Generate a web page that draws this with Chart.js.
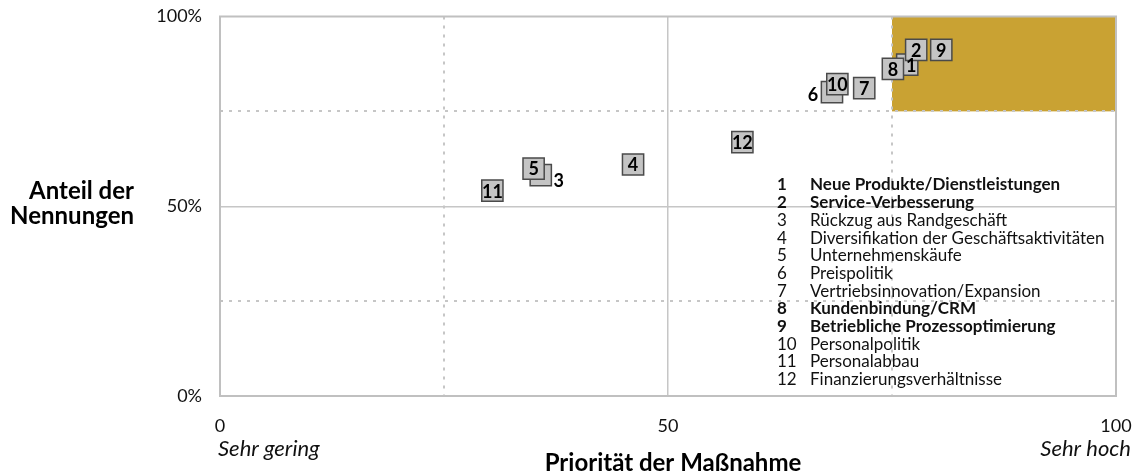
<!DOCTYPE html>
<html lang="de">
<head>
<meta charset="utf-8">
<title>Priorität der Maßnahmen</title>
<script src="https://cdn.jsdelivr.net/npm/chart.js@4.4.1/dist/chart.umd.min.js"></script>
<style>
  html, body { margin: 0; padding: 0; background: #ffffff; }
  #wrap { width: 1146px; height: 475px; position: relative; }
</style>
</head>
<body>
<div id="wrap"><canvas id="portfolio" width="1146" height="475"></canvas></div>
<script>
// Measures: number, name, priority (0-100) and share of mentions (%)
const measureNumbers = ['1', '2', '3', '4', '5', '6', '7', '8', '9', '10', '11', '12'];
const measureNames = [
  'Neue Produkte/Dienstleistungen',
  'Service-Verbesserung',
  'Rückzug aus Randgeschäft',
  'Diversifikation der Geschäftsaktivitäten',
  'Unternehmenskäufe',
  'Preispolitik',
  'Vertriebsinnovation/Expansion',
  'Kundenbindung/CRM',
  'Betriebliche Prozessoptimierung',
  'Personalpolitik',
  'Personalabbau',
  'Finanzierungsverhältnisse'
];
const priority        = [76.7, 77.7, 35.8, 46.1, 35.0, 68.3, 71.9, 75.1, 80.5, 68.9, 30.4, 58.3];
const shareOfMentions = [87.3, 91.2, 58.2, 61.0, 59.9, 80.1, 81.1, 86.2, 91.2, 82.2, 54.1, 66.9];

// Measures in the top quadrant, set in bold in the key
const topMeasures = ['1', '2', '8', '9'];

// Axis ticks and captions
const xTickValues = [0, 50, 100];
const yTickValues = [0, 50, 100];
const xEndCaptions = ['Sehr gering', 'Sehr hoch'];
const xTitle = 'Priorität der Maßnahme';
const yTitleLines = ['Anteil der', 'Nennungen'];

// Quadrant borders (dashed guides) and the highlighted quadrant
const guideValues = [25, 75];
const topQuadrant = { xFrom: 75, xTo: 100, yFrom: 75, yTo: 100 };

const FONT = 'Lato, "DejaVu Sans", sans-serif';
const GRID = '#c6c6c6';

// Label placement next to the marker where markers overlap
const labelPlacement = { '3': 'right', '6': 'left', '1': 'nudge' };

// Scales keep no extra padding, so the plot area follows layout.padding only
function noScalePadding(s) {
  s.paddingTop = 0; s.paddingBottom = 0; s.paddingLeft = 0; s.paddingRight = 0;
}

const portfolioPlugin = {
  id: 'portfolioDecor',
  beforeDatasetsDraw(chart) {
    const { ctx, chartArea: a, scales: { x, y } } = chart;
    ctx.save();
    // highlighted quadrant
    const qx0 = x.getPixelForValue(topQuadrant.xFrom), qx1 = x.getPixelForValue(topQuadrant.xTo);
    const qy0 = y.getPixelForValue(topQuadrant.yTo), qy1 = y.getPixelForValue(topQuadrant.yFrom);
    ctx.fillStyle = '#c9a233';
    ctx.fillRect(qx0, qy0, qx1 - qx0, qy1 - qy0);

    // dashed quadrant guides
    ctx.strokeStyle = GRID;
    ctx.lineWidth = 2;
    ctx.setLineDash([3, 6]);
    guideValues.forEach(v => {
      const px = Math.round(x.getPixelForValue(v));
      ctx.beginPath(); ctx.moveTo(px, a.top); ctx.lineTo(px, a.bottom); ctx.stroke();
      const py = Math.round(y.getPixelForValue(v));
      ctx.beginPath(); ctx.moveTo(a.left, py); ctx.lineTo(a.right, py); ctx.stroke();
    });
    ctx.setLineDash([]);

    // frame round the plot
    ctx.strokeStyle = '#c0c0c0';
    ctx.lineWidth = 2;
    ctx.strokeRect(a.left, a.top, a.right - a.left, a.bottom - a.top);

    // short inner ticks on the left edge
    ctx.lineWidth = 1.5;
    guideValues.forEach(v => {
      const py = Math.round(y.getPixelForValue(v));
      ctx.beginPath(); ctx.moveTo(a.left, py); ctx.lineTo(a.left + 3, py); ctx.stroke();
    });

    // key with all measures
    const keyNumX = 777, keyTextX = 810, keyTop = 185, keyStep = 17.7;
    ctx.textBaseline = 'middle';
    ctx.textAlign = 'left';
    ctx.fillStyle = '#111111';
    measureNames.forEach((name, i) => {
      const bold = topMeasures.includes(measureNumbers[i]);
      ctx.font = (bold ? 'bold ' : '') + '17px ' + FONT;
      const yy = keyTop + i * keyStep;
      ctx.fillText(measureNumbers[i], keyNumX, yy);
      ctx.fillText(name, keyTextX, yy);
    });

    // axis titles and end captions
    ctx.fillStyle = '#000000';
    ctx.font = 'bold 24px ' + FONT;
    ctx.textBaseline = 'alphabetic';
    ctx.textAlign = 'right';
    ctx.fillText(yTitleLines[0], 134, 199);
    ctx.fillText(yTitleLines[1], 134, 224);
    ctx.textAlign = 'center';
    ctx.fillText(xTitle, (a.left + a.right) / 2 + 5, 471);

    ctx.font = 'italic 22px ' + FONT;
    ctx.fillStyle = '#111111';
    ctx.textAlign = 'left';
    ctx.fillText(xEndCaptions[0], a.left - 2, 456);
    ctx.textAlign = 'right';
    ctx.fillText(xEndCaptions[1], a.right + 15, 456);
    ctx.restore();
  },
  afterDatasetsDraw(chart) {
    const { ctx } = chart;
    const meta = chart.getDatasetMeta(0);
    ctx.save();
    ctx.font = 'bold 18px ' + FONT;
    ctx.fillStyle = '#000000';
    ctx.textBaseline = 'middle';
    ctx.textAlign = 'center';
    meta.data.forEach((pt, i) => {
      const label = measureNumbers[i];
      let px = pt.x, py = pt.y + 1;
      const place = labelPlacement[label];
      if (place === 'right') { px += 18; py += 5; }
      else if (place === 'left') { px -= 19; py += 2; }
      else if (place === 'nudge') { px += 4; }
      ctx.fillText(label, px, py);
    });
    ctx.restore();
  }
};

const points = priority.map((p, i) => ({ x: p, y: shareOfMentions[i] }));

new Chart(document.getElementById('portfolio'), {
  type: 'scatter',
  data: {
    datasets: [{
      data: points,
      pointStyle: 'rect',
      pointRadius: 15,
      pointHoverRadius: 15,
      backgroundColor: '#c4c4c4',
      borderColor: '#4a4a4a',
      borderWidth: 1.5
    }]
  },
  options: {
    responsive: false,
    animation: false,
    events: [],
    layout: { padding: { top: 16, right: 30, bottom: 0, left: 0 } },
    plugins: { legend: { display: false }, tooltip: { enabled: false } },
    scales: {
      x: {
        type: 'linear', min: 0, max: 100,
        afterBuildTicks: s => { s.ticks = xTickValues.map(v => ({ value: v })); },
        afterFit: s => { s.height = 79; noScalePadding(s); },
        ticks: { padding: 19, color: '#111111', font: { family: FONT, size: 18 }, maxRotation: 0 },
        grid: {
          drawTicks: false,
          lineWidth: 1.5,
          color: c => (c.tick && c.tick.value === 50 ? GRID : 'rgba(0,0,0,0)')
        },
        border: { display: false }
      },
      y: {
        type: 'linear', min: 0, max: 100,
        afterBuildTicks: s => { s.ticks = yTickValues.map(v => ({ value: v })); },
        afterFit: s => { s.width = 220; noScalePadding(s); },
        ticks: {
          padding: 18, color: '#111111', font: { family: FONT, size: 18 },
          callback: v => v + '%'
        },
        grid: {
          drawTicks: false,
          lineWidth: 1.5,
          color: c => (c.tick && c.tick.value === 50 ? GRID : 'rgba(0,0,0,0)')
        },
        border: { display: false }
      }
    }
  },
  plugins: [portfolioPlugin]
});
</script>
</body>
</html>
